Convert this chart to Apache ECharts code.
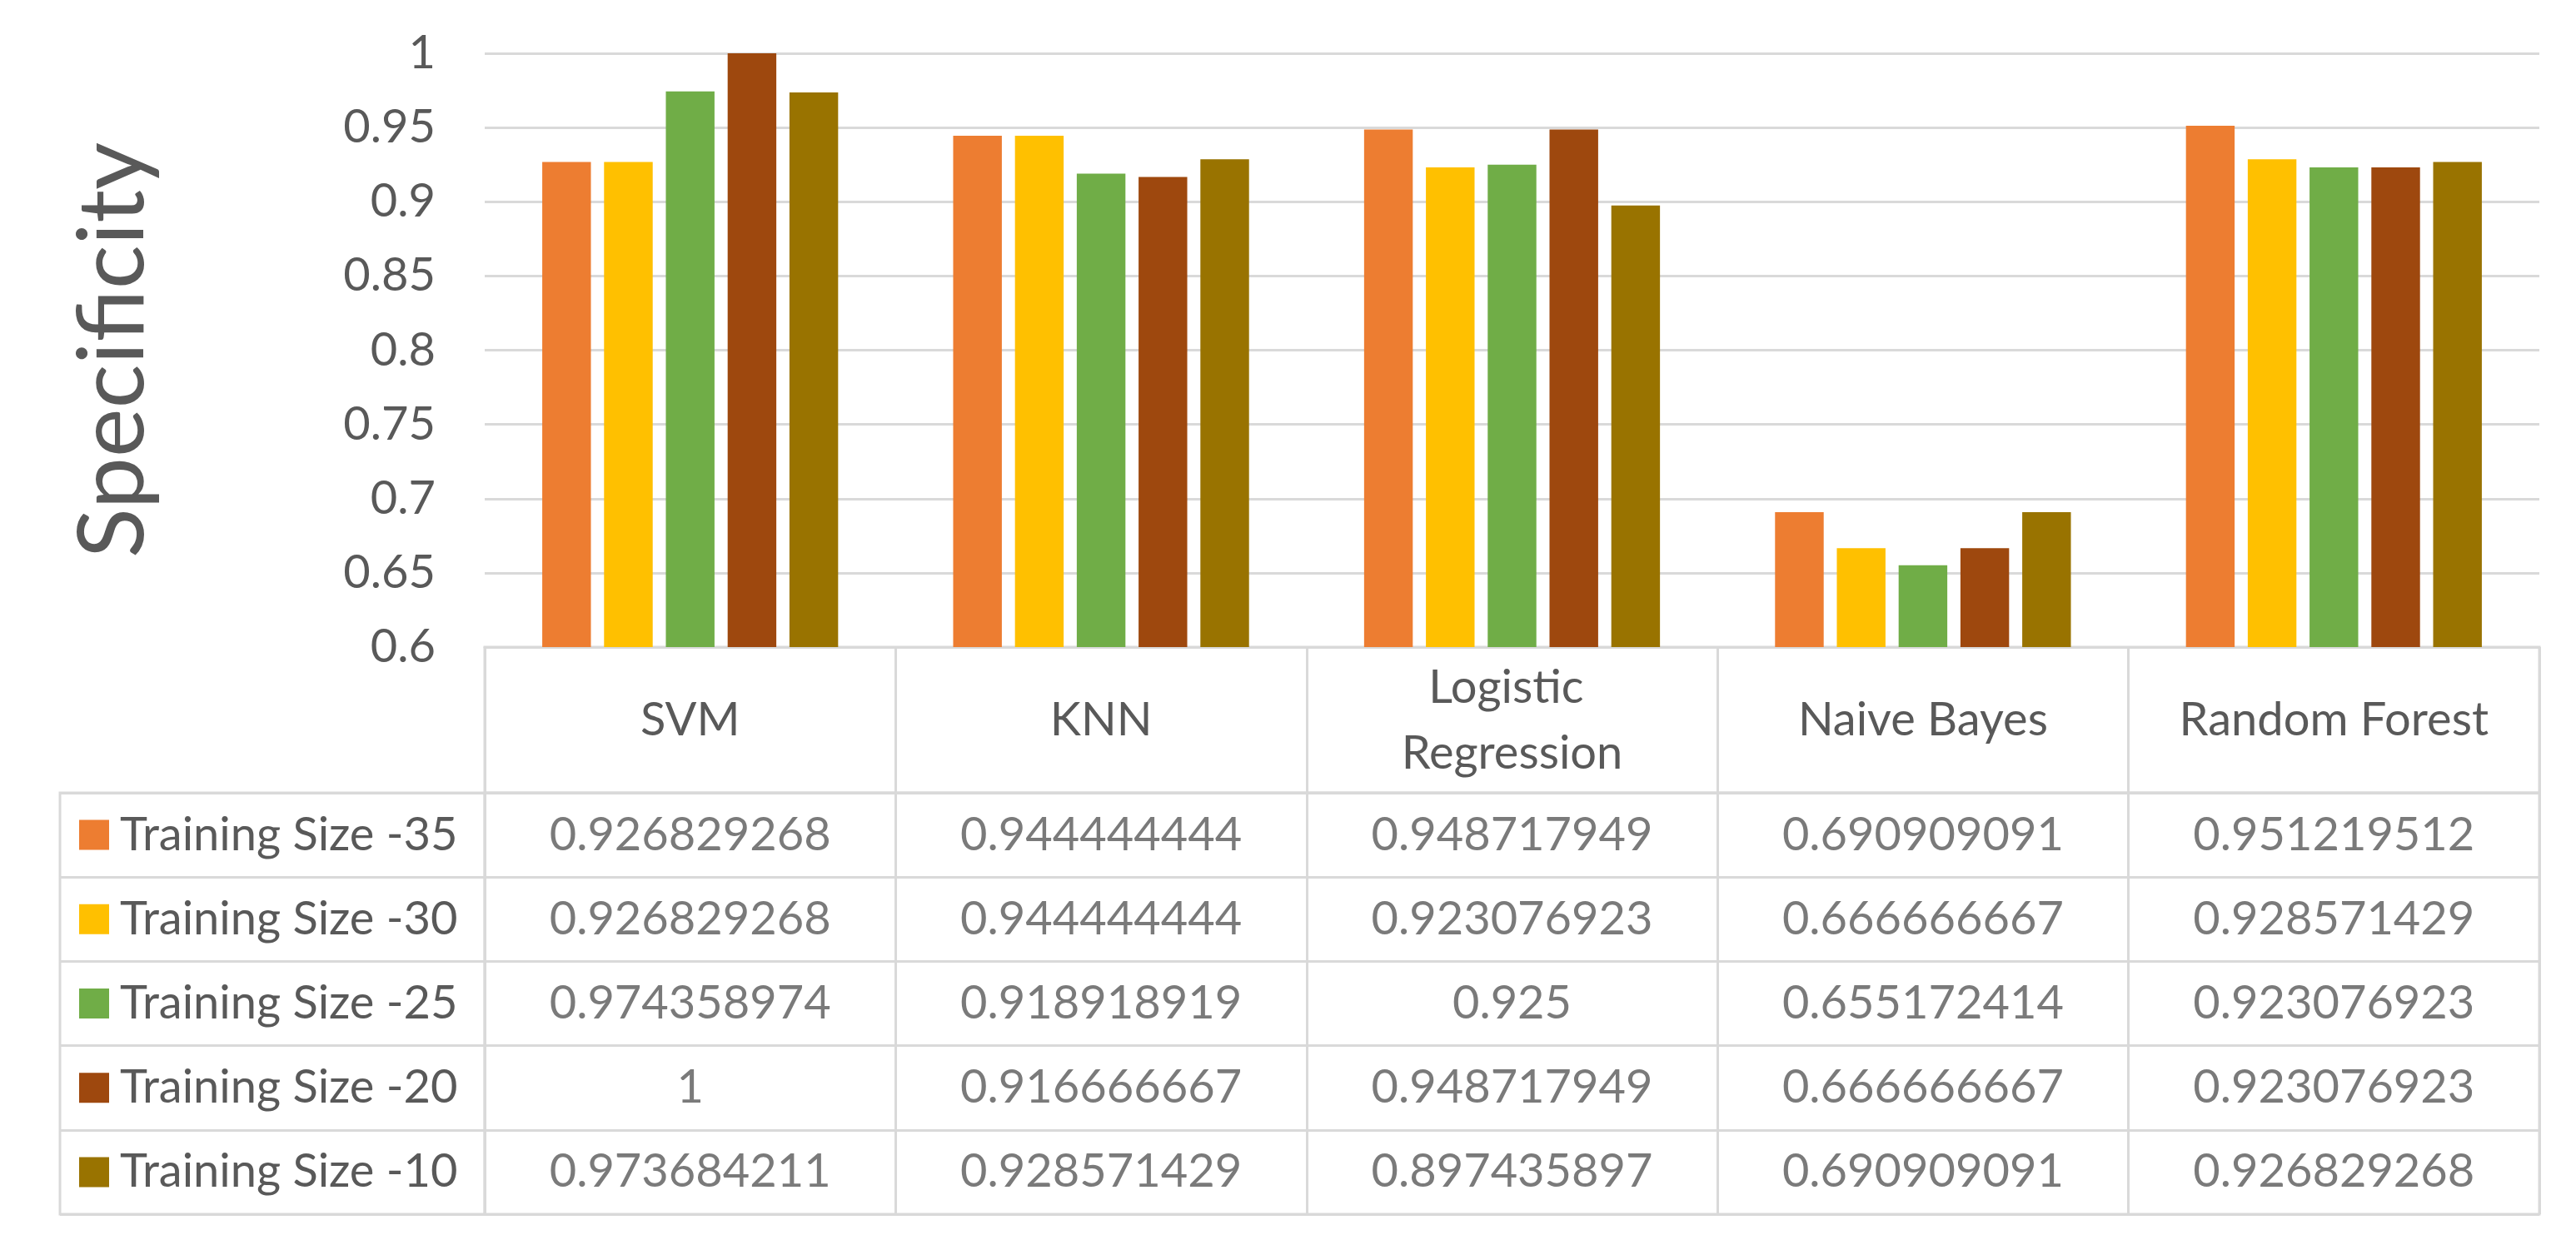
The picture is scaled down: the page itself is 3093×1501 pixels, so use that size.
<!DOCTYPE html>
<html>
<head>
<meta charset="utf-8">
<script src="https://cdn.jsdelivr.net/npm/echarts@6/dist/echarts.min.js"></script>
<style>
html,body{margin:0;padding:0;background:#fff;}
#chart{width:3093px;height:1501px;}
</style>
</head>
<body>
<div id="chart"></div>
<script>
const categories = ['SVM', 'KNN', 'Logistic Regression', 'Naive Bayes', 'Random Forest'];
const seriesNames = ['Training Size -35', 'Training Size -30', 'Training Size -25', 'Training Size -20', 'Training Size -10'];
const size35 = [0.926829268, 0.944444444, 0.948717949, 0.690909091, 0.951219512];
const size30 = [0.926829268, 0.944444444, 0.923076923, 0.666666667, 0.928571429];
const size25 = [0.974358974, 0.918918919, 0.925, 0.655172414, 0.923076923];
const size20 = [1, 0.916666667, 0.948717949, 0.666666667, 0.923076923];
const size10 = [0.973684211, 0.928571429, 0.897435897, 0.690909091, 0.926829268];
const yTicks = ['0.6', '0.65', '0.7', '0.75', '0.8', '0.85', '0.9', '0.95', '1'];

const seriesValues = [size35, size30, size25, size20, size10];
const colors = ['#ED7D31', '#FFC000', '#70AD47', '#9E480E', '#997300'];
const FONT = 'Lato';
const TXT = '#595959';
const LINE = '#d9d9d9';

const chart = echarts.init(document.getElementById('chart'), null, {renderer: 'canvas'});

const rich = {gap: {width: 13}};
colors.forEach((c, i) => { rich['s' + i] = {width: 36, height: 36, backgroundColor: c}; });

const cellData = [];
seriesValues.forEach((arr, i) => arr.forEach((v, j) => cellData.push([j, i, v])));

const fmt = v => String(Number(v.toFixed(9)));

const option = {
  backgroundColor: '#fff',
  animation: false,
  textStyle: {fontFamily: FONT},
  grid: [
    {left: 582, right: 44, top: 64, height: 713},
    {left: 582, right: 44, top: 777, height: 175, show: true, borderColor: LINE, borderWidth: 3},
    {left: 582, right: 44, top: 952, height: 506, show: true, borderColor: LINE, borderWidth: 3},
    {left: 72, width: 510, top: 952, height: 506, show: true, borderColor: LINE, borderWidth: 3}
  ],
  xAxis: [
    {
      gridIndex: 0, type: 'category', data: categories,
      axisLine: {show: true, lineStyle: {color: LINE, width: 3}},
      axisTick: {show: false},
      axisLabel: {show: true, interval: 0, margin: 88, verticalAlign: 'middle',
        fontSize: 56, color: TXT, fontFamily: FONT, lineHeight: 79,
        width: 430, overflow: 'break'}
    },
    {
      gridIndex: 1, type: 'category', data: categories,
      axisLine: {show: false}, axisTick: {show: false}, axisLabel: {show: false},
      splitLine: {show: true, interval: 0, lineStyle: {color: LINE, width: 3}}
    },
    {
      gridIndex: 2, type: 'category', data: categories,
      axisLine: {show: false}, axisTick: {show: false}, axisLabel: {show: false},
      splitLine: {show: true, interval: 0, lineStyle: {color: LINE, width: 3}}
    },
    {
      gridIndex: 3, type: 'category', data: [''],
      axisLine: {show: false}, axisTick: {show: false}, axisLabel: {show: false},
      splitLine: {show: false}
    }
  ],
  yAxis: [
    {
      gridIndex: 0, type: 'value', min: 0.6, max: 1, interval: 0.05,
      name: 'Specificity', nameLocation: 'middle', nameGap: 390,
      nameTextStyle: {fontSize: 111, color: TXT, fontFamily: FONT},
      axisLine: {show: false}, axisTick: {show: false},
      axisLabel: {fontSize: 56, color: TXT, margin: 59, fontFamily: FONT,
        formatter: v => { const s = yTicks.find(t => Math.abs(Number(t) - v) < 1e-9); return s !== undefined ? s : ''; }},
      splitLine: {show: true, lineStyle: {color: LINE, width: 3}}
    },
    {
      gridIndex: 1, type: 'category', data: [''],
      axisLine: {show: false}, axisTick: {show: false}, axisLabel: {show: false},
      splitLine: {show: false}
    },
    {
      gridIndex: 2, type: 'category', data: seriesNames, inverse: true,
      axisLine: {show: false}, axisTick: {show: false}, axisLabel: {show: false},
      splitLine: {show: true, interval: 0, lineStyle: {color: LINE, width: 3}}
    },
    {
      gridIndex: 3, type: 'category', data: seriesNames, inverse: true,
      axisLine: {show: false}, axisTick: {show: false},
      axisLabel: {show: true, inside: true, interval: 0, margin: 23, align: 'left',
        fontSize: 56, color: TXT, fontFamily: FONT,
        formatter: (v, i) => '{s' + i + '|}{gap|}' + v, rich: rich},
      splitLine: {show: true, interval: 0, lineStyle: {color: LINE, width: 3}}
    }
  ],
  series: seriesNames.map((name, i) => ({
    name: name, type: 'bar', xAxisIndex: 0, yAxisIndex: 0,
    data: seriesValues[i],
    itemStyle: {color: colors[i]},
    barCategoryGap: '28%', barGap: '27%'
  })).concat([{
    type: 'scatter', xAxisIndex: 2, yAxisIndex: 2,
    data: cellData, symbolSize: 1, itemStyle: {color: 'rgba(0,0,0,0)'},
    label: {show: true, position: 'inside', fontSize: 56, color: TXT, fontFamily: FONT,
      formatter: p => fmt(p.value[2])},
    silent: true
  }])
};
chart.setOption(option);
</script>
</body>
</html>
